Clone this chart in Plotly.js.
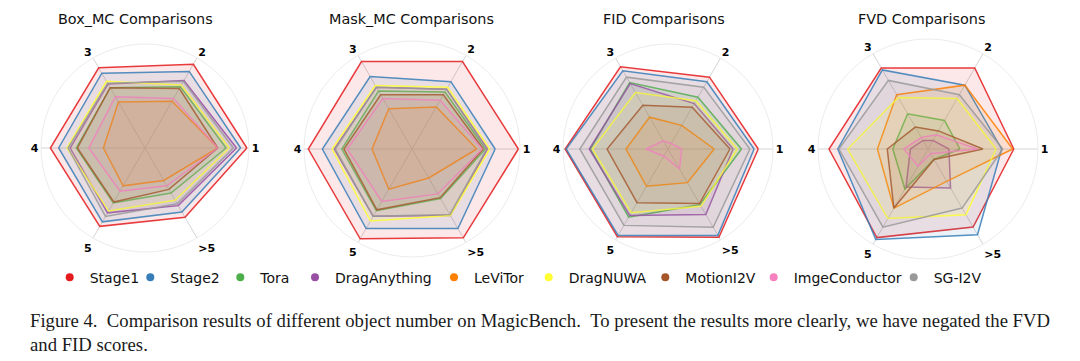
<!DOCTYPE html>
<html>
<head>
<meta charset="utf-8">
<script src="https://cdn.plot.ly/plotly-3.0.1.min.js"></script>
<style>
  html, body { margin: 0; padding: 0; background: #ffffff; }
  #chart { width: 1080px; height: 361px; }
</style>
</head>
<body>
<div id="chart"></div>
<script>
// ---- data (values normalised to the outer ring of each radar) ----
const AXES = ['1', '2', '3', '4', '5', '>5'];
const METHODS = ['Stage1', 'Stage2', 'Tora', 'DragAnything', 'LeViTor', 'DragNUWA', 'MotionI2V', 'ImgeConductor', 'SG-I2V'];
const COLORS = ['#e41a1c', '#377eb8', '#4daf4a', '#984ea3', '#ff7f00', '#ffff33', '#a65628', '#f781bf', '#999999'];
const TITLES = ['Box_MC Comparisons', 'Mask_MC Comparisons', 'FID Comparisons', 'FVD Comparisons'];

// rows follow METHODS order, columns follow AXES order
const BOX_MC = [
  [0.98, 0.93, 0.89, 0.91, 0.87, 0.77],
  [0.92, 0.85, 0.83, 0.83, 0.82, 0.71],
  [0.78, 0.68, 0.67, 0.66, 0.61, 0.50],
  [0.88, 0.75, 0.71, 0.72, 0.72, 0.64],
  [0.70, 0.52, 0.51, 0.40, 0.42, 0.36],
  [0.81, 0.70, 0.74, 0.75, 0.70, 0.58],
  [0.70, 0.66, 0.67, 0.65, 0.60, 0.46],
  [0.70, 0.55, 0.57, 0.54, 0.48, 0.42],
  [0.85, 0.74, 0.72, 0.74, 0.76, 0.62]
];
const MASK_MC = [
  [0.985, 0.935, 0.935, 0.96, 0.96, 0.95],
  [0.77, 0.72, 0.775, 0.83, 0.85, 0.85],
  [0.68, 0.61, 0.62, 0.65, 0.66, 0.53],
  [0.70, 0.64, 0.66, 0.72, 0.72, 0.71],
  [0.60, 0.45, 0.43, 0.37, 0.43, 0.31],
  [0.72, 0.66, 0.68, 0.74, 0.77, 0.71],
  [0.66, 0.58, 0.58, 0.63, 0.65, 0.52],
  [0.65, 0.52, 0.54, 0.60, 0.56, 0.48],
  [0.69, 0.64, 0.66, 0.71, 0.72, 0.70]
];
const FID = [
  [0.86, 0.79, 0.905, 0.98, 0.965, 0.97],
  [0.82, 0.74, 0.86, 0.97, 0.95, 0.95],
  [0.70, 0.57, 0.73, 0.74, 0.75, 0.61],
  [0.62, 0.50, 0.72, 0.75, 0.73, 0.72],
  [0.44, 0.26, 0.35, 0.40, 0.41, 0.37],
  [0.66, 0.53, 0.62, 0.72, 0.70, 0.63],
  [0.59, 0.46, 0.48, 0.58, 0.59, 0.60],
  [0.13, 0.06, 0.09, 0.21, 0.08, 0.22],
  [0.78, 0.68, 0.79, 0.84, 0.84, 0.86]
];
const FVD = [
  [0.78, 0.85, 0.85, 0.90, 0.93, 0.82],
  [0.67, 0.67, 0.83, 0.82, 0.95, 0.90],
  [0.29, 0.30, 0.37, 0.32, 0.42, 0.11],
  [0.19, 0.09, 0.09, 0.16, 0.40, 0.41],
  [0.77, 0.67, 0.57, 0.46, 0.62, 0.34],
  [0.62, 0.53, 0.54, 0.73, 0.73, 0.69],
  [0.50, 0.19, 0.23, 0.37, 0.62, 0.11],
  [0.45, 0.15, 0.12, 0.22, 0.18, 0.05],
  [0.68, 0.57, 0.72, 0.81, 0.82, 0.62]
];
const CHARTS = [BOX_MC, MASK_MC, FID, FVD];

// ---- layout geometry (pixels in the 1080x361 figure) ----
const W = 1080, H = 361;
const CENTERS = [[145, 148, 104], [412, 149, 108], [668, 149, 105], [928, 149, 110]];
const TITLE_X = [135.5, 411.5, 663.5, 921];
const LEGEND_DOT_X = [72.7, 153.3, 243.3, 318, 457, 551.7, 668.3, 776.7, 916.7];

function rgba(hex, a) {
  const n = parseInt(hex.slice(1), 16);
  return 'rgba(' + ((n >> 16) & 255) + ',' + ((n >> 8) & 255) + ',' + (n & 255) + ',' + a + ')';
}

const traces = [];
CHARTS.forEach((rows, ci) => {
  const sub = ci === 0 ? 'polar' : 'polar' + (ci + 1);
  rows.forEach((vals, mi) => {
    traces.push({
      type: 'scatterpolar',
      subplot: sub,
      r: vals.concat([vals[0]]),
      theta: AXES.concat([AXES[0]]),
      mode: 'lines',
      fill: 'toself',
      fillcolor: rgba(COLORS[mi], 0.1),
      line: { color: rgba(COLORS[mi], 0.85), width: 1.5 },
      name: METHODS[mi],
      showlegend: false,
      hoverinfo: 'skip'
    });
  });
});
// legend entries (dots) on a hidden cartesian axis, the point itself lies outside the axis range
METHODS.forEach((m, mi) => {
  traces.push({
    type: 'scatter',
    xaxis: 'x', yaxis: 'y',
    x: [-10], y: [-10],
    mode: 'markers',
    cliponaxis: true,
    marker: { color: COLORS[mi], size: 8 },
    name: m,
    showlegend: true,
    hoverinfo: 'skip',
    legend: mi === 0 ? 'legend' : 'legend' + (mi + 1)
  });
});

const layout = {
  width: W, height: H,
  margin: { l: 0, r: 0, t: 0, b: 0 },
  paper_bgcolor: '#ffffff',
  plot_bgcolor: 'rgba(0,0,0,0)',
  showlegend: true,
  xaxis: { domain: [0, 0.01], range: [0, 1], visible: false, fixedrange: true },
  yaxis: { domain: [0, 0.01], range: [0, 1], visible: false, fixedrange: true },
  annotations: []
};

CENTERS.forEach((c, ci) => {
  const [cx, cy, R] = c;
  const key = ci === 0 ? 'polar' : 'polar' + (ci + 1);
  layout[key] = {
    domain: { x: [(cx - R) / W, (cx + R) / W], y: [1 - (cy + R) / H, 1 - (cy - R) / H] },
    bgcolor: '#ffffff',
    radialaxis: { range: [0, 1], showgrid: false, showticklabels: false, showline: false, ticks: '' },
    angularaxis: {
      type: 'category', categoryorder: 'array', categoryarray: AXES,
      rotation: 0, direction: 'counterclockwise',
      showline: true, linecolor: '#ececec', linewidth: 1,
      showgrid: true, gridcolor: '#d4d4d4', gridwidth: 1,
      ticks: '',
      tickfont: { family: 'DejaVu Sans', size: 11, color: '#000000', weight: 'bold' }
    }
  };
  layout.annotations.push({
    text: TITLES[ci], xref: 'paper', yref: 'paper',
    x: TITLE_X[ci] / W, y: 1 - 19 / H, xanchor: 'center', yanchor: 'middle',
    showarrow: false, font: { family: 'DejaVu Sans', size: 14.4, color: '#111111' }
  });
});

LEGEND_DOT_X.forEach((dx, mi) => {
  const key = mi === 0 ? 'legend' : 'legend' + (mi + 1);
  layout[key] = {
    orientation: 'h', x: (dx - 23) / W, xanchor: 'left',
    y: 1 - 277.7 / H, yanchor: 'middle',
    bgcolor: 'rgba(0,0,0,0)', borderwidth: 0,
    font: { family: 'DejaVu Sans', size: 14, color: '#111111' },
    itemclick: false, itemdoubleclick: false
  };
});

const NB = '\u00A0';
layout.annotations.push({
  text: 'Figure 4.' + NB + NB + 'Comparison results of different object number on MagicBench.' + NB + NB + 'To present the results more clearly, we have negated the FVD',
  xref: 'paper', yref: 'paper', x: 28.3 / W, y: 1 - 320 / H, xanchor: 'left', yanchor: 'middle',
  showarrow: false, font: { family: 'Liberation Serif', size: 18.7, color: '#1a1a1a' }
});
layout.annotations.push({
  text: 'and FID scores.',
  xref: 'paper', yref: 'paper', x: 28.3 / W, y: 1 - 344 / H, xanchor: 'left', yanchor: 'middle',
  showarrow: false, font: { family: 'Liberation Serif', size: 18.7, color: '#1a1a1a' }
});

Plotly.newPlot('chart', traces, layout, { displayModeBar: false, staticPlot: true });
</script>
</body>
</html>
